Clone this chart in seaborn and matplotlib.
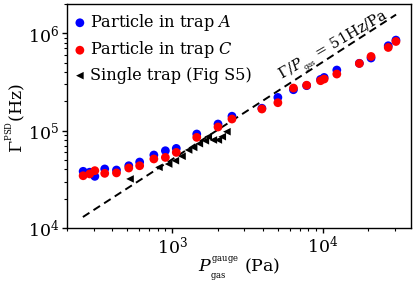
import numpy as np
import pandas as pd
import matplotlib
matplotlib.use("Agg")
import matplotlib.pyplot as plt
import seaborn as sns

# ---- data ----
p_circ = [256, 283, 306, 356, 426, 514, 607, 754, 899, 1062, 1452, 2009, 2486,
          3926, 5012, 6358, 7780, 9620, 10160, 12330, 17400, 20800, 27050, 30420]
gamma_A = [38300, 37500, 34000, 40500, 39500, 43700, 47700, 56300, 62300, 65800,
           92500, 117100, 140800, 170000, 219600, 263500, 290000, 336000, 352000,
           419500, 492000, 557000, 745000, 851000]
gamma_C = [34500, 36000, 38900, 36500, 36900, 41400, 43700, 51300, 53200, 59900,
           85400, 109200, 131800, 167000, 193800, 274000, 293000, 326000, 339000,
           381600, 490000, 578000, 715000, 824000]
p_single = [524, 815, 945, 1047, 1159, 1282, 1384, 1510, 1655, 1730, 1870, 2018, 2143, 2301]
gamma_single = [32000, 42100, 45500, 49200, 54700, 63400, 67400, 73600, 78800, 86800,
                80300, 80300, 86800, 97700]
fit_slope = 51.0          # Hz/Pa
fit_p = [255, 30500]

labels = [r"Particle in trap $A$", r"Particle in trap $C$", "Single trap (Fig S5)"]

sns.set_theme(style="ticks")
plt.rcParams["font.family"] = ["DejaVu Serif"]
plt.rcParams["mathtext.fontset"] = "dejavuserif"
plt.rcParams["axes.linewidth"] = 1.0
for k in ["text.color", "axes.labelcolor", "xtick.color", "ytick.color", "axes.edgecolor"]:
    plt.rcParams[k] = "black"

fig = plt.figure(figsize=(4.16, 2.82), dpi=100)
ax = fig.add_axes([0.161, 0.191, 0.827, 0.795])

dfA = pd.DataFrame({"P": p_circ, "G": gamma_A})
dfC = pd.DataFrame({"P": p_circ, "G": gamma_C})
dfS = pd.DataFrame({"P": p_single, "G": gamma_single})
dfF = pd.DataFrame({"P": fit_p, "G": [fit_slope * p for p in fit_p]})

sns.lineplot(data=dfF, x="P", y="G", ax=ax, color="black", lw=1.4,
             linestyle=(0, (4, 2.5)), zorder=1)
sns.scatterplot(data=dfA, x="P", y="G", ax=ax, color="#0000ff", s=40,
                edgecolor="none", label=labels[0], zorder=2)
sns.scatterplot(data=dfC, x="P", y="G", ax=ax, color="#ff0000", s=40,
                edgecolor="none", label=labels[1], zorder=3)
sns.scatterplot(data=dfS, x="P", y="G", ax=ax, color="black", marker="<", s=30,
                edgecolor="none", label=labels[2], zorder=4)

ax.set_xscale("log")
ax.set_yscale("log")
ax.set_xlim(200, 38300)
ax.set_ylim(1e4, 2e6)

ax.text(5300, 3.35e5, r"$\Gamma/P_{_{\rm gas}}$ = 51Hz/Pa", rotation=30,
        rotation_mode="anchor", ha="left", va="baseline", fontsize=10.5, color="black")

ax.set_xlabel(r"$P^{^{\rm gauge}}_{_{\rm gas}}$ (Pa)", fontsize=12.5)
ax.set_ylabel(r"$\Gamma^{^{\rm PSD}}$(Hz)", fontsize=12.5)
ax.xaxis.set_label_coords(0.5, -0.115)
ax.yaxis.set_label_coords(-0.11, 0.49)
ax.tick_params(axis="both", which="major", labelsize=12.5, length=3.5, width=1, pad=2,
               colors="black")
ax.tick_params(axis="both", which="minor", length=2, width=0.8, colors="black")
for s in ax.spines.values():
    s.set_visible(True)
    s.set_color("black")

leg = ax.legend(loc="upper left", frameon=False, fontsize=11.6, handlelength=0.6,
                handletextpad=0.3, labelspacing=0.4, borderaxespad=0.3,
                borderpad=0.2, markerscale=1.0)
for t in leg.get_texts():
    t.set_color("black")

fig.savefig("out.png", dpi=100)
